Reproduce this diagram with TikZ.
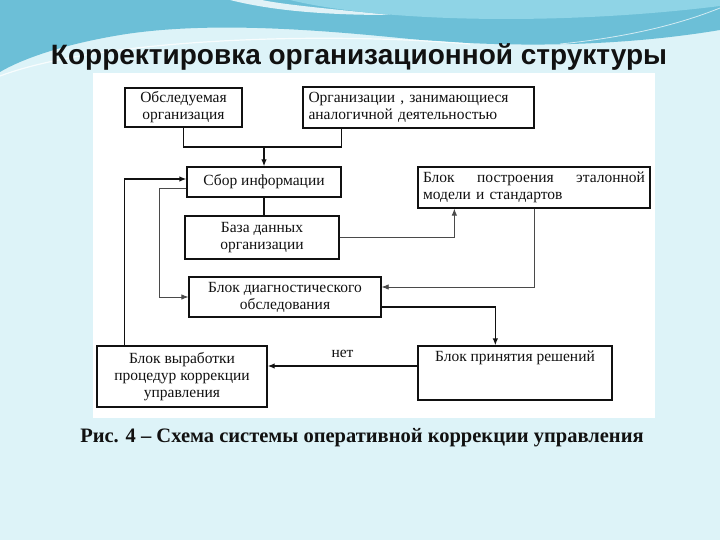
\documentclass[tikz,border=0pt]{standalone}
\usepackage{fontspec}
\setmainfont{Liberation Serif}
\newfontfamily\slidesans{Liberation Sans}
\usetikzlibrary{arrows.meta,calc}
\definecolor{sBack}{HTML}{DDF3F8}
\definecolor{sWave}{HTML}{6CBFD7}
\definecolor{sWaveLt}{HTML}{8FD4E6}
\definecolor{sInk}{HTML}{111111}
\definecolor{sGrey}{HTML}{4A4A4A}

\begin{document}
\begin{tikzpicture}[
  x=1pt, y=-1pt,
  font=\fontsize{15.5}{17}\selectfont, text=sInk,
  >={Latex[length=7pt,width=5.5pt]},
  blk/.style={rectangle, draw=sInk, line width=1.3pt, inner sep=3pt, align=center},
  link/.style={draw=sInk, line width=1.3pt},
  faint/.style={draw=sGrey, line width=0.8pt},
]
\useasboundingbox (0,0) rectangle (720,540);

% slide background and wave
\fill[sBack] (0,0) rectangle (720,540);
\fill[sWave] (0,0) -- (720,0) -- (720,30)
  .. controls (600,50) and (480,46) .. (400,38)
  .. controls (300,28) and (200,22) .. (120,35)
  .. controls (60,45) and (20,60) .. (0,72) -- cycle;
\fill[sWaveLt] (290,0) .. controls (380,22) and (560,26) .. (720,6) -- (720,0) -- cycle;
\fill[white, opacity=0.8] (230,0) .. controls (270,10) and (320,15) .. (390,15)
  .. controls (320,8) and (280,4) .. (262,0) -- cycle;
\draw[white, line width=1.2pt, opacity=0.8] (0,76) .. controls (90,42) and (300,30) .. (470,44);
\draw[white, line width=0.8pt, opacity=0.7] (560,44) .. controls (640,36) and (690,20) .. (720,8);

% title and white panel
\node[font=\slidesans\bfseries\fontsize{28}{32}\selectfont] (title) at (359,57)
  {Корректировка организационной структуры};
\fill[white] (93,73) rectangle (655,418);

% blocks
\node[blk, minimum width=117pt, minimum height=39pt] (obsl) at (183.5,107.5)
  {Обследуемая\\организация};
\node[blk, minimum width=231pt, minimum height=41pt, text width=220pt, align=left] (analog) at (418.5,107.5)
  {Организации , занимающиеся\\аналогичной деятельностью};
\node[blk, minimum width=154pt, minimum height=30pt] (sbor) at (264,182) {Сбор информации};
\node[blk, minimum width=232pt, minimum height=41pt, text width=222pt, align=left] (etalon) at (534,187.5)
  {Блок\hfill построения\hfill эталонной\\модели и стандартов};
\node[blk, minimum width=154pt, minimum height=43pt] (baza) at (262,237.5)
  {База данных\\организации};
\node[blk, minimum width=192pt, minimum height=40pt] (diagn) at (285,297)
  {Блок диагностического\\обследования};
\node[blk, minimum width=170pt, minimum height=61pt] (vyrab) at (182,376.5)
  {Блок выработки\\процедур коррекции\\управления};
\node[blk, minimum width=194pt, minimum height=54pt, text height=12pt, text depth=36pt] (prin) at (515,373)
  {Блок принятия решений};

% connectors
\coordinate (split) at (sbor.north |- 0,147);
\coordinate (afoot) at ($(analog.south west)+(39,0)$);
\draw[link] (obsl.south) |- (split) -| (afoot);
\draw[link, ->] (split) -- (sbor.north);
\draw[link] (sbor.south) -- (sbor.south |- baza.north);
\draw[faint, ->] (baza.east) -| ($(etalon.south west)+(37,0)$);
\draw[faint, ->] (etalon.south) |- ($(diagn.east)+(0,-10)$);
\draw[link, ->] ($(diagn.east)+(0,10)$) -| ($(prin.north west)+(78,0)$);
\draw[link, ->] (prin.west |- 0,366) -- (vyrab.east |- 0,366)
  node[midway, above=4pt] (net) {нет};
\draw[link, ->] ($(vyrab.north west)+(28,0)$) |- ($(sbor.west)+(0,-3)$);
\draw[faint, ->] ($(sbor.west)+(0,6)$) -- ++(-27,0) |- (diagn.west);

% caption
\node[font=\bfseries\fontsize{20.5}{24}\selectfont] (caption) at (362,438)
  {Рис. 4 – Схема системы оперативной коррекции управления};
\end{tikzpicture}
\end{document}
